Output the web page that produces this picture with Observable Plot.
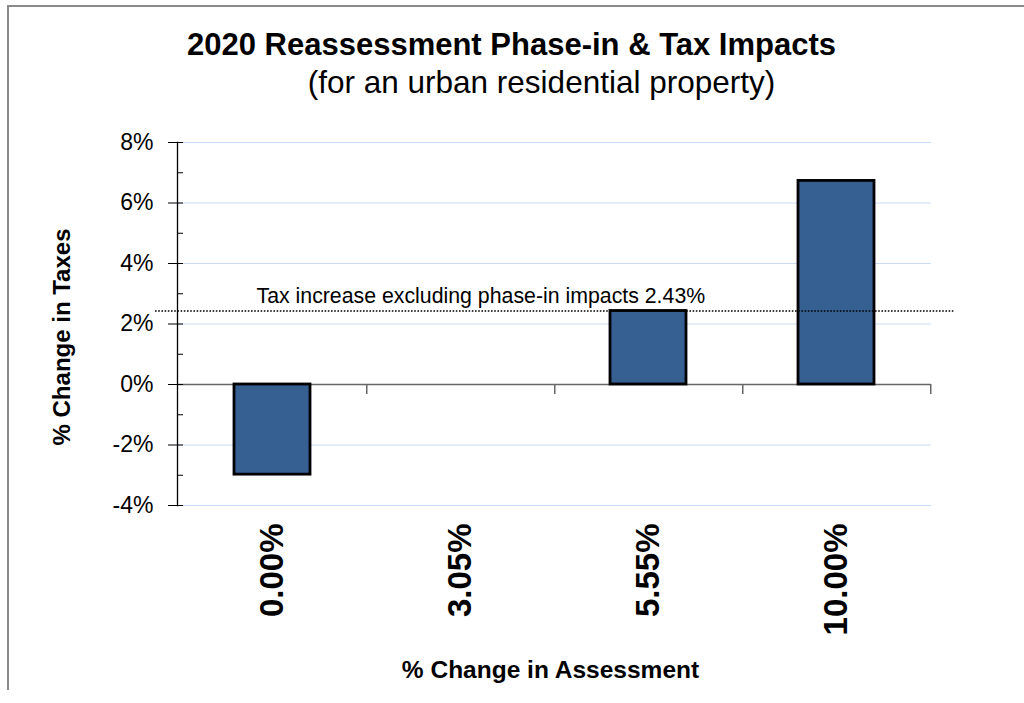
<!DOCTYPE html>
<html>
<head>
<meta charset="utf-8">
<script src="https://cdn.jsdelivr.net/npm/d3@7"></script>
<script src="https://cdn.jsdelivr.net/npm/@observablehq/plot@0.6"></script>
<style>
  html, body { margin: 0; padding: 0; background: #fff; }
  #wrap { position: relative; width: 1024px; height: 703px; overflow: hidden; }
  #border { position: absolute; left: 7px; top: 5px; width: 1040px; height: 685px;
            border-top: 2px solid #8a8a8a; border-left: 2px solid #8a8a8a; box-sizing: border-box; pointer-events: none; }
  svg { font-family: "Liberation Sans", Arial, sans-serif; }
</style>
</head>
<body>
<div id="wrap"><div id="border"></div></div>
<script>
const categories = ["0.00%", "3.05%", "5.55%", "10.00%"];
const taxChange = [-0.0298, 0, 0.0243, 0.0673];
const taxIncrease = 0.0243;
const yTicks = [-0.04, -0.02, 0, 0.02, 0.04, 0.06, 0.08];
const yAllTicks = [-0.04, -0.03, -0.02, -0.01, 0, 0.01, 0.02, 0.03, 0.04, 0.05, 0.06, 0.07, 0.08];
const gridTicks = [-0.04, -0.02, 0.02, 0.04, 0.06, 0.08];
const title = "2020 Reassessment Phase-in & Tax Impacts";
const subtitle = "(for an urban residential property)";
const xTitle = "% Change in Assessment";
const yTitle = "% Change in Taxes";

const data = categories.map((c, i) => ({category: c, value: taxChange[i]}));
const pct0 = d => `${Math.round(d * 100)}%`;
const pct2 = d => `${(d * 100).toFixed(2)}%`;

const chart = Plot.plot({
  width: 1024,
  height: 703,
  marginLeft: 177,
  marginRight: 93,
  marginTop: 142,
  marginBottom: 198,
  style: {background: "transparent", fontFamily: "'Liberation Sans', Arial, sans-serif", overflow: "visible"},
  x: {type: "band", domain: categories, padding: 0, axis: null},
  y: {domain: [-0.04, 0.08], axis: null},
  marks: [
    Plot.gridY(gridTicks, {stroke: "#c9daf2", strokeOpacity: 1, strokeWidth: 1}),
    Plot.ruleY([0], {stroke: "#666", strokeWidth: 1.5}),
    Plot.ruleX(categories, {x: d => d, y1: 0, y2: 0, insetBottom: -10, dx: 94.25, stroke: "#666", strokeWidth: 1.5}),
    Plot.barY(data.filter(d => d.value !== 0), {x: "category", y: "value", fill: "#376092", stroke: "#000", strokeWidth: 2.8, insetLeft: 56, insetRight: 56}),
    Plot.frame({anchor: "left", stroke: "#000", strokeWidth: 1.3}),
    Plot.axisY(yTicks, {anchor: "left", tickSize: 9, tickPadding: 15, tickFormat: pct0, fontSize: 23, label: null, stroke: "#000", fill: "#000"}),
    Plot.axisY(yAllTicks, {anchor: "right", frameAnchor: "left", tickSize: 5, text: null, label: null, stroke: "#000"}),
    Plot.ruleY([taxIncrease], {stroke: "#000", strokeWidth: 1.6, strokeDasharray: "1.6,1.6", insetLeft: -22, insetRight: -23}),
    Plot.text([taxIncrease], {y: d => d, text: d => `Tax increase excluding phase-in impacts ${pct2(d)}`, frameAnchor: "left", textAnchor: "start", lineAnchor: "bottom", dx: 79, dy: -8, fontSize: 21.3, fill: "#000"}),
    Plot.text(categories, {x: d => d, text: d => d, frameAnchor: "bottom", rotate: -90, textAnchor: "end", lineAnchor: "middle", dy: 18, fontSize: 33, fontWeight: "bold", fill: "#000"}),
    Plot.text([xTitle], {frameAnchor: "bottom", text: d => d, textAnchor: "middle", dx: -4, dy: 165, lineAnchor: "middle", fontSize: 24.5, fontWeight: "bold", fill: "#000"}),
    Plot.text([yTitle], {frameAnchor: "left", text: d => d, textAnchor: "middle", rotate: -90, dx: -115, dy: 13, lineAnchor: "middle", fontSize: 24, fontWeight: "bold", fill: "#000"}),
    Plot.text([title], {frameAnchor: "top", text: d => d, textAnchor: "middle", dx: -43, dy: -97, lineAnchor: "middle", fontSize: 31, fontWeight: "bold", fill: "#000"}),
    Plot.text([subtitle], {frameAnchor: "top", text: d => d, textAnchor: "middle", dx: -13, dy: -60, lineAnchor: "middle", fontSize: 31.5, fill: "#000"})
  ]
});
document.getElementById("wrap").appendChild(chart);
chart.style.position = "absolute";
chart.style.left = "0";
chart.style.top = "0";
</script>
</body>
</html>
